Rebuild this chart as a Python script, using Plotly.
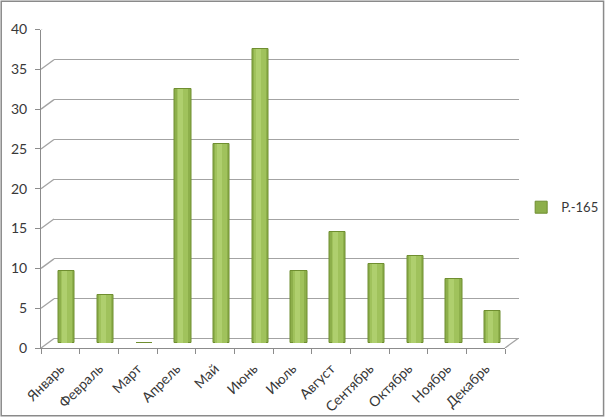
import plotly.graph_objects as go

months = ["Январь", "Февраль", "Март", "Апрель", "Май", "Июнь",
          "Июль", "Август", "Сентябрь", "Октябрь", "Ноябрь", "Декабрь"]
values = [9, 6, 0, 32, 25, 37, 9, 14, 10, 11, 8, 4]
series_name = "Р.-165"
y_ticks = [0, 5, 10, 15, 20, 25, 30, 35, 40]

W, H = 606, 417
FONT = "Lato"
TXT = "#383838"
GRID = "#A3A3A3"

def px_x(a, b):
    return [a / W, b / W]

def px_y(bottom, top):
    return [(H - bottom) / H, (H - top) / H]

fig = go.Figure()

# invisible traces driving the back wall (x/y, drawn first) and the front axes (x2/y2)
fig.add_trace(go.Scatter(x=months, y=values, mode="markers", marker=dict(opacity=0),
                         xaxis="x", yaxis="y", showlegend=False, hoverinfo="skip"))
fig.add_trace(go.Scatter(x=months, y=values, mode="markers", marker=dict(opacity=0),
                         xaxis="x2", yaxis="y2", showlegend=False, hoverinfo="skip"))

# cylinder-like bars on x3/y3 (mid depth): body + lighter strips
fig.add_trace(go.Bar(x=months, y=values, name=series_name, width=0.42, offset=-0.21,
                     marker=dict(color="#8DAF4B", line=dict(color="#6F8E30", width=1)),
                     xaxis="x3", yaxis="y3", showlegend=True, hoverinfo="x+y"))
fig.add_trace(go.Bar(x=months, y=values, width=0.30, offset=-0.175,
                     marker=dict(color="#A0C25C", line=dict(width=0)),
                     xaxis="x3", yaxis="y3", showlegend=False, hoverinfo="skip"))
fig.add_trace(go.Bar(x=months, y=values, width=0.13, offset=-0.13,
                     marker=dict(color="#AFCF6E", line=dict(width=0)),
                     xaxis="x3", yaxis="y3", showlegend=False, hoverinfo="skip"))

DX, DY = 13, 9.5
shapes = []
for v in y_ticks:
    shapes.append(dict(type="line", xref="x2 domain", xsizemode="pixel", xanchor=0,
                       x0=0, x1=DX, yref="y2", ysizemode="pixel", yanchor=v,
                       y0=0, y1=DY, line=dict(color=GRID, width=1.3)))
shapes.append(dict(type="line", xref="x2 domain", xsizemode="pixel", xanchor=1,
                   x0=0, x1=DX, yref="y2", ysizemode="pixel", yanchor=0,
                   y0=0, y1=DY, line=dict(color=GRID, width=1.3)))
shapes.append(dict(type="rect", xref="paper", yref="paper", x0=0.002, x1=0.996,
                   y0=0.003, y1=0.997, line=dict(color="#8A8A8A", width=1.5), layer="above"))

hidden = dict(showticklabels=False, showgrid=False, showline=False, zeroline=False,
              ticks="", automargin=False)

fig.update_layout(
    width=W, height=H,
    margin=dict(l=0, r=0, t=0, b=0, autoexpand=False),
    paper_bgcolor="white", plot_bgcolor="rgba(0,0,0,0)",
    font=dict(family=FONT, size=12, color=TXT),
    barmode="overlay",
    bargap=0,
    shapes=shapes,
    showlegend=True,
    legend=dict(x=0.860, y=0.503, xanchor="left", yanchor="middle",
                font=dict(family=FONT, size=13, color=TXT),
                bgcolor="rgba(0,0,0,0)", itemwidth=30),
    # back wall gridlines
    xaxis=dict(domain=px_x(54, 519), type="category", categoryarray=months,
               range=[-0.5, 11.5], anchor="y", **hidden),
    yaxis=dict(domain=px_y(338.5, 20), range=[0, 40], tickvals=y_ticks, anchor="x",
               showticklabels=False, showgrid=True, gridcolor=GRID, gridwidth=1.4,
               showline=False, zeroline=True, zerolinecolor=GRID, zerolinewidth=1.4,
               ticks="", automargin=False),
    # front axes with labels
    xaxis2=dict(domain=px_x(41, 505), type="category", categoryarray=months,
                range=[-0.5, 11.5], anchor="y2", showline=True, linecolor="#8C8C8C",
                linewidth=1, ticks="outside", ticklen=5, tickcolor="#8C8C8C",
                tickson="boundaries", tickangle=-45, ticklabelstandoff=6,
                showgrid=False, zeroline=False,
                automargin=False, tickfont=dict(family=FONT, size=14, color=TXT)),
    yaxis2=dict(domain=px_y(348, 29.5), range=[0, 40], tickvals=y_ticks, anchor="x2",
                showline=True, linecolor="#8C8C8C", linewidth=1, ticks="outside",
                ticklen=5, tickcolor="#8C8C8C", ticklabelstandoff=5,
                showgrid=False, zeroline=False,
                automargin=False, tickfont=dict(family=FONT, size=14, color=TXT)),
    # bars (mid depth)
    xaxis3=dict(domain=px_x(47.5, 512), type="category", categoryarray=months,
                range=[-0.5, 11.5], anchor="y3", **hidden),
    yaxis3=dict(domain=px_y(343, 25), range=[0, 40], anchor="x3", **hidden),
)

fig.write_html("out.html", config={"displayModeBar": False},
               post_script="document.body.style.margin='0';document.body.style.overflow='hidden';")
